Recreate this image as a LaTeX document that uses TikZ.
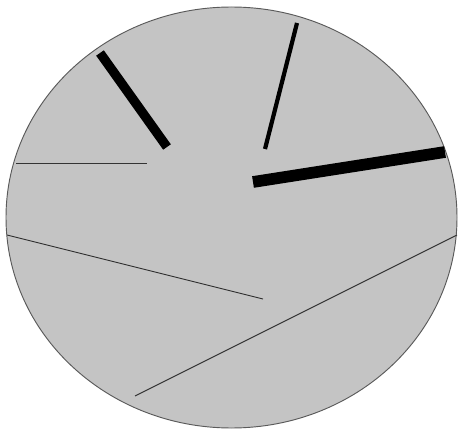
\documentclass[tikz,border=0pt]{standalone}
\usepackage{tikz}
\definecolor{discgray}{RGB}{196,196,196}
\definecolor{rimgray}{RGB}{90,90,90}
\tikzset{
  rim/.style={draw=rimgray, line width=0.8pt, fill=discgray},
  crackthin/.style={draw=black!80, line width=0.8pt},
  crackmid/.style={draw=black, line width=3.6pt},
  crackthick/.style={draw=black, line width=8pt},
  crackheavy/.style={draw=black, line width=10pt}
}
\begin{document}
\begin{tikzpicture}[x=0.03cm, y=-0.03cm]

\useasboundingbox (0,0) rectangle (458,431);

% --- DISC ---
\path[rim] (231.5,217.5) ellipse [x radius=225.5, y radius=210.5];

% --- END POINTS ---
\coordinate (a1) at (100,53);  \coordinate (a2) at (167,147);
\coordinate (b1) at (297,23);  \coordinate (b2) at (265,149);
\coordinate (c1) at (253,182); \coordinate (c2) at (445,152);
\coordinate (d1) at (16,163);  \coordinate (d2) at (147,163);
\coordinate (e1) at (7,235);   \coordinate (e2) at (263,299);
\coordinate (f1) at (135,396); \coordinate (f2) at (457,235);

% --- CRACKS ---
\draw[crackthick] (a1) -- (a2);
\draw[crackmid] (b1) -- (b2);
\draw[crackheavy] (c1) -- (c2);
\draw[crackthin] (d1) -- (d2);
\draw[crackthin] (e1) -- (e2);
\draw[crackthin] (f1) -- (f2);

\end{tikzpicture}
\end{document}
